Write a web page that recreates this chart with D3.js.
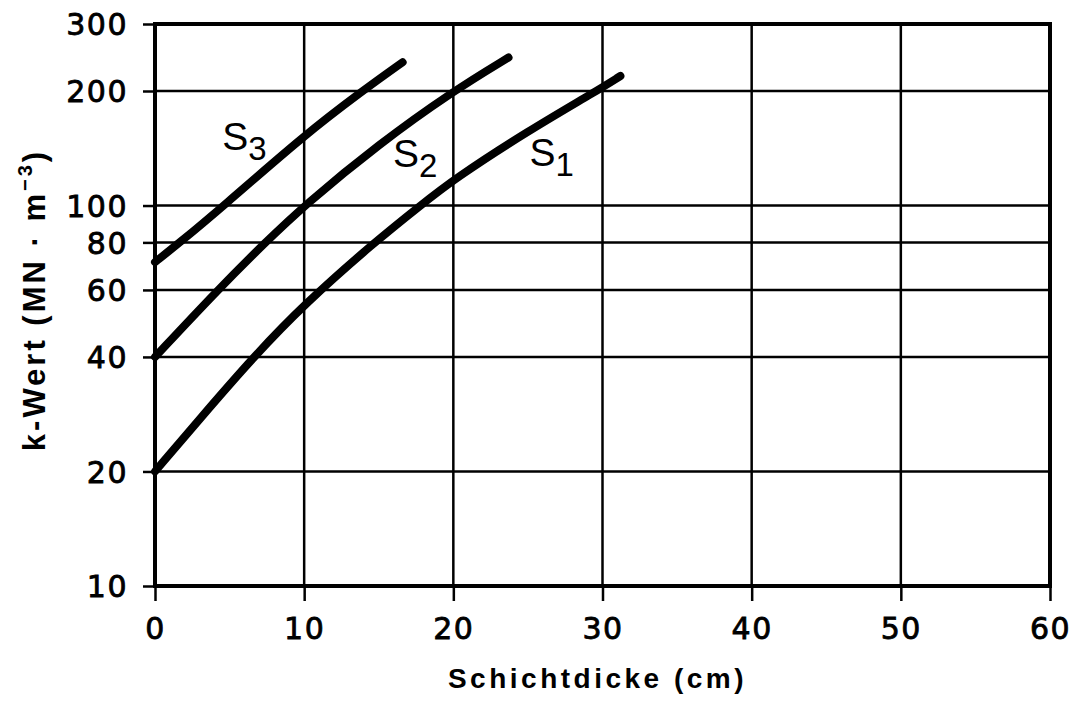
<!DOCTYPE html>
<html>
<head>
<meta charset="utf-8">
<script src="https://cdn.jsdelivr.net/npm/d3@7"></script>
<style>
  body { margin: 0; background: #fff; }
  text { fill: #000; }
</style>
</head>
<body>
<div id="chart"></div>
<script>
// curve values (x in cm, k in MN·m⁻³)
const s1X = [0, 3, 6.6, 10, 14.7, 17.8, 20, 25, 29.6, 31.2];
const s1Y = [20, 27.5, 40, 55, 80, 100, 117, 157, 200, 219];
const s2X = [0, 4.2, 7.4, 10, 15, 20, 23.7];
const s2Y = [40, 60, 80, 100, 145, 200, 245];
const s3X = [0, 1.5, 4.5, 10, 13.9, 16.6];
const s3Y = [71, 79, 99, 153, 200, 238];
const xTicks = [0, 10, 20, 30, 40, 50, 60];
const yTicks = [10, 20, 40, 60, 80, 100, 200, 300];
const labels = [
  { name: "S", sub: "3", x: 4.5, y: 140 },
  { name: "S", sub: "2", x: 15.95, y: 126 },
  { name: "S", sub: "1", x: 25.1, y: 127 }
];

const W = 1078, H = 703;
const M = { TOP: 24, LEFT: 155, RIGHT: 28, BOTTOM: 117 };
const SANS = '"Liberation Sans", Arial, sans-serif';

const svg = d3.select('#chart')
  .append('svg')
    .attr('width', W)
    .attr('height', H)
    .style('font-family', SANS);

const x = d3.scaleLinear().domain([0, 60]).range([M.LEFT, W - M.RIGHT]);
const y = d3.scaleLog().domain([10, 300]).range([H - M.BOTTOM, M.TOP]);

// grid
svg.append('g')
  .selectAll('line')
  .data(xTicks.slice(1, -1))
  .join('line')
    .attr('x1', d => x(d)).attr('x2', d => x(d))
    .attr('y1', y(300)).attr('y2', y(10))
    .attr('stroke', '#000').attr('stroke-width', 2.5);

svg.append('g')
  .selectAll('line')
  .data(yTicks.slice(1, -1))
  .join('line')
    .attr('x1', x(0)).attr('x2', x(60))
    .attr('y1', d => y(d)).attr('y2', d => y(d))
    .attr('stroke', '#000').attr('stroke-width', 2.5);

// axes
const xAxis = svg.append('g')
  .attr('transform', `translate(0, ${y(10)})`)
  .call(d3.axisBottom(x).tickValues(xTicks).tickSize(15).tickPadding(14));

const yAxis = svg.append('g')
  .attr('transform', `translate(${x(0)}, 0)`)
  .call(d3.axisLeft(y).tickValues(yTicks).tickFormat(d3.format('d')).tickSize(12).tickPadding(15));

[xAxis, yAxis].forEach(g => {
  g.select('.domain').remove();
  g.selectAll('line').attr('stroke', '#000').attr('stroke-width', 2.5);
  g.selectAll('text')
    .style('font-family', '"DejaVu Sans", sans-serif')
    .style('font-size', '30px')
    .attr('letter-spacing', 1.5)
    .attr('stroke', '#000')
    .attr('stroke-width', 0.8)
    .attr('fill', '#000');
});
xAxis.selectAll('text').attr('dy', '0.8em');
yAxis.selectAll('text').attr('dy', '0.36em');

// frame
svg.append('rect')
  .attr('x', x(0)).attr('y', y(300))
  .attr('width', x(60) - x(0))
  .attr('height', y(10) - y(300))
  .attr('fill', 'none')
  .attr('stroke', '#000')
  .attr('stroke-width', 4);

// curves
const line = d3.line()
  .x(d => x(d[0]))
  .y(d => y(d[1]))
  .curve(d3.curveBasis);

[[s1X, s1Y], [s2X, s2Y], [s3X, s3Y]].forEach(([xs, ys]) => {
  svg.append('path')
    .datum(xs.map((v, i) => [v, ys[i]]))
    .attr('d', line)
    .attr('fill', 'none')
    .attr('stroke', '#000')
    .attr('stroke-width', 8)
    .attr('stroke-linecap', 'round');
});

// curve labels
labels.forEach(l => {
  const t = svg.append('text')
    .attr('x', x(l.x))
    .attr('y', y(l.y))
    .style('font-size', '39px');
  t.append('tspan').text(l.name);
  t.append('tspan').style('font-size', '33px').attr('dy', 10).text(l.sub);
});

// axis titles
svg.append('text')
  .attr('x', (x(0) + x(60)) / 2 - 5)
  .attr('y', 688)
  .attr('text-anchor', 'middle')
  .style('font-size', '28px')
  .style('font-weight', 'bold')
  .attr('letter-spacing', 3.5)
  .text('Schichtdicke (cm)');

const yt = svg.append('text')
  .attr('transform', 'translate(45, 300) rotate(-90)')
  .attr('text-anchor', 'middle')
  .style('font-size', '31px')
  .style('font-weight', 'bold')
  .attr('letter-spacing', 3);
yt.append('tspan').text('k-Wert (MN · m');
yt.append('tspan').style('font-size', '20px').attr('dy', -13).text('−3');
yt.append('tspan').attr('dy', 13).text(')');
</script>
</body>
</html>
